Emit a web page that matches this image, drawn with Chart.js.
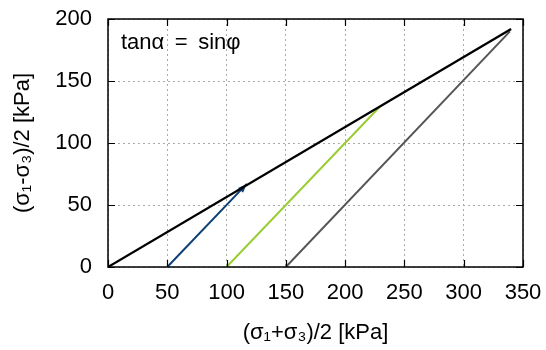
<!DOCTYPE html>
<html>
<head>
<meta charset="utf-8">
<script src="https://cdn.jsdelivr.net/npm/chart.js@4.4.0/dist/chart.umd.min.js"></script>
<style>
  html, body { margin: 0; padding: 0; background: #fff; }
  #wrap { width: 546px; height: 350px; }
</style>
</head>
<body>
<div id="wrap"><canvas id="stressChart"></canvas></div>
<script>
// data dari gambar
const xTicks = [0, 50, 100, 150, 200, 250, 300, 350];
const yTicks = [0, 50, 100, 150, 200];

// garis Kf : tan a = sin phi
const kfX = [0, 340];
const kfY = [0, 192];
// lintasan tegangan (stress paths)
const pathBlueX = [50, 117];
const pathBlueY = [0, 67];
const pathGreenX = [100, 229];
const pathGreenY = [0, 129];
const pathGrayX = [150, 339];
const pathGrayY = [0, 190];

const FONT = "'Liberation Sans', Arial, sans-serif";

function toPoints(xs, ys) {
    return xs.map((x, i) => ({ x: x, y: ys[i] }));
}

// plugin: bingkai, tick ke dalam, panah, teks
const framePlugin = {
    id: 'frame',
    beforeDatasetsDraw(chart) {
        const ctx = chart.ctx;
        const xs = chart.scales.x, ys = chart.scales.y;
        // kepala panah (hanya yang kelihatan di gambar)
        chart.data.datasets.forEach((ds) => {
            if (!ds.arrow) return;
            const p0 = ds.data[ds.data.length - 2], p1 = ds.data[ds.data.length - 1];
            const x0 = xs.getPixelForValue(p0.x), y0 = ys.getPixelForValue(p0.y);
            const x1 = xs.getPixelForValue(p1.x), y1 = ys.getPixelForValue(p1.y);
            const ang = Math.atan2(y1 - y0, x1 - x0);
            const len = 9, half = 3.5;
            ctx.save();
            ctx.fillStyle = ds.borderColor;
            ctx.translate(x1, y1);
            ctx.rotate(ang);
            ctx.beginPath();
            ctx.moveTo(0, 0);
            ctx.lineTo(-len, -half);
            ctx.lineTo(-len, half);
            ctx.closePath();
            ctx.fill();
            ctx.restore();
        });
    },
    afterDraw(chart) {
        const ctx = chart.ctx;
        const a = chart.chartArea;
        const xs = chart.scales.x, ys = chart.scales.y;
        ctx.save();
        ctx.strokeStyle = '#000';
        ctx.lineWidth = 1.2;
        ctx.beginPath();
        xTicks.forEach((v) => {
            const px = Math.round(xs.getPixelForValue(v)) + 0.5;
            ctx.moveTo(px, a.bottom); ctx.lineTo(px, a.bottom - 7);
            ctx.moveTo(px, a.top); ctx.lineTo(px, a.top + 7);
        });
        yTicks.forEach((v) => {
            const py = Math.round(ys.getPixelForValue(v)) + 0.5;
            ctx.moveTo(a.left, py); ctx.lineTo(a.left + 7, py);
            ctx.moveTo(a.right, py); ctx.lineTo(a.right - 7, py);
        });
        ctx.stroke();
        ctx.lineWidth = 1.5;
        ctx.strokeRect(a.left, a.top, a.right - a.left, a.bottom - a.top);
        // label persamaan
        ctx.fillStyle = '#000';
        ctx.font = '22px ' + FONT;
        ctx.textBaseline = 'middle';
        ctx.textAlign = 'left';
        ctx.fillText('tan\u03b1 \u2009=\u2009 sin\u03c6', a.left + 13, a.top + 24);
        ctx.restore();
    }
};

const ctx = document.getElementById('stressChart').getContext('2d');
const stressChart = new Chart(ctx, {
    type: 'scatter',
    data: {
        datasets: [
            {
                label: 'Kf',
                data: toPoints(kfX, kfY),
                borderColor: '#000000',
                borderWidth: 2.3,
                showLine: true,
                pointRadius: 0,
                order: 0
            },
            {
                label: 'path 1',
                data: toPoints(pathBlueX, pathBlueY),
                borderColor: '#0b3f73',
                borderWidth: 2,
                showLine: true,
                pointRadius: 0,
                arrow: true,
                order: 1
            },
            {
                label: 'path 2',
                data: toPoints(pathGreenX, pathGreenY),
                borderColor: '#99cc33',
                borderWidth: 2,
                showLine: true,
                pointRadius: 0,
                order: 2
            },
            {
                label: 'path 3',
                data: toPoints(pathGrayX, pathGrayY),
                borderColor: '#555555',
                borderWidth: 2,
                showLine: true,
                pointRadius: 0,
                order: 3
            }
        ]
    },
    options: {
        responsive: true,
        maintainAspectRatio: false,
        animation: false,
        layout: {
            padding: { top: 19, right: 23, left: 0, bottom: 0 }
        },
        plugins: {
            legend: { display: false },
            tooltip: { enabled: false }
        },
        scales: {
            x: {
                type: 'linear',
                min: 0,
                max: 350,
                afterBuildTicks: (s) => { s.ticks = xTicks.map(v => ({ value: v })); },
                afterFit: (s) => { s.height = 83; s.paddingRight = 0; s.paddingLeft = 0; },
                ticks: {
                    color: '#000',
                    font: { family: FONT, size: 22 },
                    padding: 13,
                    maxRotation: 0
                },
                grid: {
                    color: '#aaaaaa',
                    lineWidth: 1,
                    drawTicks: false
                },
                border: { display: false, dash: [2, 3] },
                title: {
                    display: true,
                    text: '(\u03c3\u2081+\u03c3\u2083)/2 [kPa]',
                    color: '#000',
                    font: { family: FONT, size: 22 },
                    padding: { top: 8 }
                }
            },
            y: {
                type: 'linear',
                min: 0,
                max: 200,
                afterBuildTicks: (s) => { s.ticks = yTicks.map(v => ({ value: v })); },
                afterFit: (s) => { s.width = 108; s.paddingTop = 0; s.paddingBottom = 0; },
                ticks: {
                    color: '#000',
                    font: { family: FONT, size: 22 },
                    padding: 16
                },
                grid: {
                    color: '#aaaaaa',
                    lineWidth: 1,
                    drawTicks: false
                },
                border: { display: false, dash: [2, 3] },
                title: {
                    display: true,
                    text: '(\u03c3\u2081-\u03c3\u2083)/2 [kPa]',
                    color: '#000',
                    font: { family: FONT, size: 22 },
                    padding: { top: 10, bottom: 4 }
                }
            }
        }
    },
    plugins: [framePlugin]
});
</script>
</body>
</html>
